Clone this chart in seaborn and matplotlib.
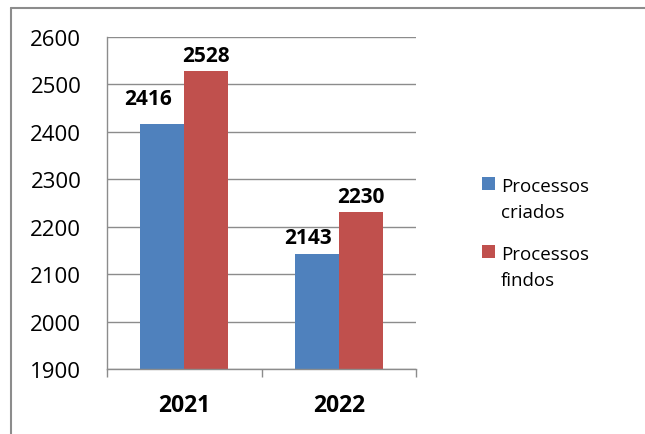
import matplotlib
matplotlib.use("Agg")
import matplotlib.pyplot as plt
import seaborn as sns
import pandas as pd
from matplotlib.lines import Line2D
from matplotlib.patches import Rectangle
from matplotlib.ticker import FixedLocator

# Dados
anos = ["2021", "2022"]
criados = [2416, 2143]
findos = [2528, 2230]
series = ["Processos criados", "Processos findos"]
legenda = [("Processos", "criados"), ("Processos", "findos")]
cores = ["#4F81BD", "#C0504D"]
y_ticks = [1900, 2000, 2100, 2200, 2300, 2400, 2500, 2600]

df = pd.DataFrame({
    "Ano": anos * 2,
    "Valor": criados + findos,
    "Série": [series[0]] * len(anos) + [series[1]] * len(anos),
})

sns.set_theme(style="white")
plt.rcParams["font.family"] = ["Open Sans", "DejaVu Sans"]
plt.rcParams["text.color"] = "black"
cinza = "#8c8c8c"

W, H = 645, 435
fig = plt.figure(figsize=(W / 100, H / 100), dpi=100)
fig.patch.set_facecolor("white")

ax = fig.add_axes([107 / W, 1 - 370 / H, (416 - 107) / W, (370 - 38) / H])
sns.barplot(data=df, x="Ano", y="Valor", hue="Série", palette=cores,
            width=0.57, saturation=1, linewidth=0, ax=ax, legend=False)

ax.set_ylim(y_ticks[0], y_ticks[-1])
ax.set_xlim(-0.5, len(anos) - 0.5)
ax.set_yticks(y_ticks)
ax.set_xlabel("")
ax.set_ylabel("")

# Grelha e eixos
ax.yaxis.grid(True, color=cinza, linewidth=1)
ax.set_axisbelow(True)
for s in ["top", "right"]:
    ax.spines[s].set_visible(False)
for s in ["left", "bottom"]:
    ax.spines[s].set_color(cinza)
    ax.spines[s].set_linewidth(1)

ax.tick_params(axis="y", which="major", direction="out", length=6.5, width=1,
               color=cinza, labelsize=16, pad=12, labelcolor="black")
ax.tick_params(axis="x", which="major", length=0, labelsize=16.5, pad=17,
               labelcolor="black")
ax.xaxis.set_minor_locator(FixedLocator([i - 0.5 for i in range(len(anos) + 1)]))
ax.tick_params(axis="x", which="minor", direction="out", length=6, width=1,
               color=cinza, bottom=True)
for lbl in ax.get_xticklabels():
    lbl.set_fontweight("bold")

# Rótulos de dados
rotulos = []
for cont in ax.containers:
    rotulos.append(ax.bar_label(cont, fmt="%d", fontsize=15, fontweight="bold",
                                color="black", padding=4))
# os rótulos da série "criados" foram deslocados para a esquerda
# (e o de 2021 também para cima) para não tocarem nos vizinhos
ajustes_criados = [(-10, 7), (-6.5, 0)]
for anot, (dx, dy) in zip(rotulos[0], ajustes_criados):
    x0, y0 = anot.xyann
    anot.xyann = (x0 + dx, y0 + dy)

# Legenda (quadrado alinhado com a primeira linha do texto)
topos = [178, 246]
for cor, (l1, l2), topo in zip(cores, legenda, topos):
    fig.add_artist(Rectangle((482 / W, 1 - (topo + 13) / H), 13 / W, 13 / H,
                             facecolor=cor, edgecolor="none",
                             transform=fig.transFigure))
    fig.text(501 / W, 1 - (topo + 14) / H, l1, fontsize=13.5, va="baseline",
             ha="left", color="black")
    fig.text(501 / W, 1 - (topo + 40) / H, l2, fontsize=13.5, va="baseline",
             ha="left", color="black")

# Moldura exterior do gráfico
fig.add_artist(Line2D([10.5 / W, 10.5 / W], [0, 1 - 8.5 / H], color=cinza,
                      linewidth=1.5, transform=fig.transFigure))
fig.add_artist(Line2D([10.5 / W, 1], [1 - 8.5 / H, 1 - 8.5 / H], color=cinza,
                      linewidth=1.5, transform=fig.transFigure))

fig.savefig("out.png", dpi=100)
